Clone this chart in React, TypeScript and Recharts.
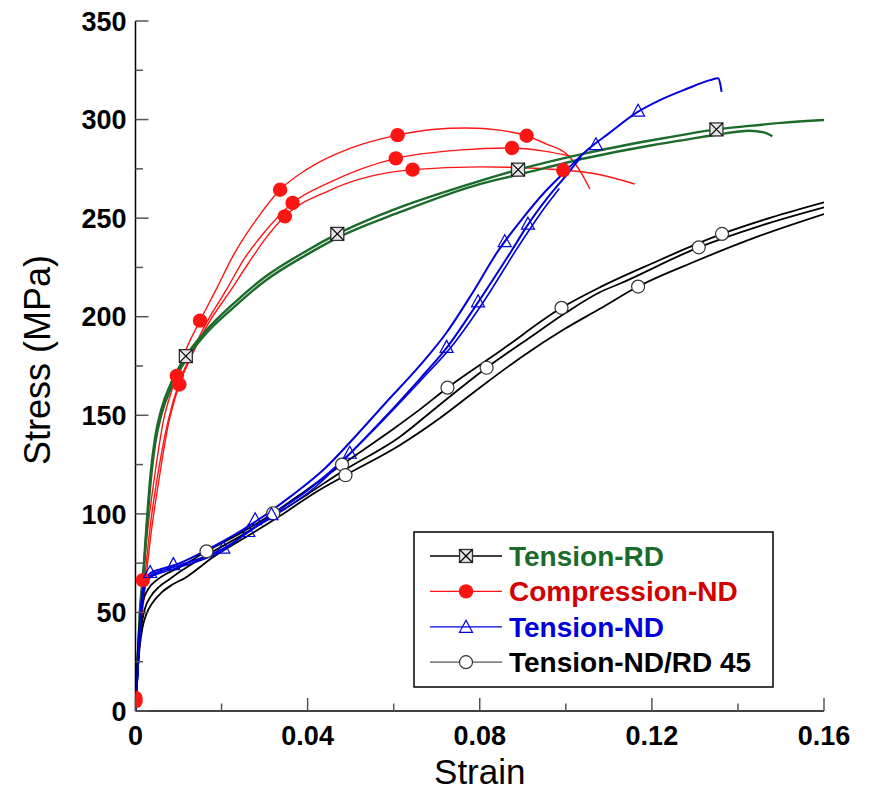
import React from 'react';
import { ComposedChart, Line, Scatter, XAxis, YAxis, Legend, Label } from 'recharts';

// Tension-RD, two specimens (strain, stress MPa)
const rd1Strain = [0, 0.0005, 0.001, 0.0018, 0.00265, 0.0035, 0.0045, 0.006, 0.0084, 0.0117, 0.016, 0.0227, 0.03, 0.0398, 0.0469, 0.0614, 0.075, 0.0889, 0.1048, 0.12, 0.1265, 0.135, 0.1427, 0.15, 0.16];
const rd1Stress = [0, 25, 50, 70, 97, 120, 138, 153, 167, 180, 192, 206.5, 220, 233.5, 242, 255.5, 265.5, 274.6, 283, 289.5, 292, 295, 296.8, 298.3, 299.8];
const rd2Strain = [0, 0.0005, 0.001, 0.0018, 0.0027, 0.0036, 0.0046, 0.0061, 0.0085, 0.0118, 0.016, 0.0227, 0.03, 0.0398, 0.0469, 0.0614, 0.08, 0.0889, 0.1048, 0.12, 0.1265, 0.135, 0.1427, 0.146, 0.148];
const rd2Stress = [0, 24, 48, 68, 95, 118, 136, 151, 165, 178.5, 190.5, 204.5, 218, 231.5, 240, 253, 267.3, 272, 280.5, 287, 289.3, 292.3, 294.3, 293.5, 291.5];
const rdMarkStrain = [0.0117, 0.0469, 0.0889, 0.135];
const rdMarkStress = [180, 242, 274.6, 295];

// Compression-ND, three specimens
const cnA_strain = [0, 0.0005, 0.001, 0.0017, 0.003, 0.0045, 0.0065, 0.0085, 0.0096, 0.0115, 0.015, 0.0189, 0.0227, 0.028, 0.0336, 0.04, 0.05, 0.0609, 0.069, 0.0769, 0.085, 0.0909, 0.0955, 0.1002, 0.1033, 0.1056];
const cnA_stress = [6.6, 25, 45, 66.4, 95, 120, 147.4, 163, 170, 182, 198, 214.5, 231, 249, 264.4, 275, 285.5, 292.1, 295, 295.7, 294.5, 291.8, 287.6, 282.5, 274, 264.8];
const cnB_strain = [0, 0.0006, 0.0012, 0.002, 0.0035, 0.0055, 0.0076, 0.0102, 0.0125, 0.016, 0.0212, 0.025, 0.03, 0.0365, 0.045, 0.0605, 0.075, 0.0875, 0.095, 0.101];
const cnB_stress = [6.6, 25, 45, 64, 95, 124, 147.4, 167, 179, 195, 214, 228.5, 243, 257.7, 268, 280.3, 284.5, 285.6, 284, 281.5];
const cnC_strain = [0, 0.0006, 0.0012, 0.002, 0.0035, 0.0055, 0.0076, 0.0102, 0.013, 0.0165, 0.0223, 0.0262, 0.03, 0.0347, 0.045, 0.0644, 0.08, 0.0994, 0.108, 0.116];
const cnC_stress = [5, 22, 40, 58, 88, 118, 145, 165.6, 180, 195, 214, 227, 239, 250.9, 264, 274.6, 276, 274.4, 272, 267.3];
const cnMarkStrain = [0, 0, 0.0017, 0.0096, 0.0102, 0.015, 0.0336, 0.0347, 0.0365, 0.0605, 0.0609, 0.0644, 0.0875, 0.0909, 0.0994];
const cnMarkStress = [6.6, 5, 66.4, 170, 165.6, 198, 264.4, 250.9, 257.7, 280.3, 292.1, 274.6, 285.6, 291.8, 274.4];

// Tension-ND, three specimens
const tnA_strain = [0, 0.0007, 0.0014, 0.002, 0.0034, 0.006, 0.0103, 0.0165, 0.025, 0.0359, 0.044, 0.0514, 0.058, 0.0661, 0.0723, 0.078, 0.0843, 0.09, 0.095, 0.1, 0.1048, 0.11, 0.1168, 0.122, 0.128, 0.1335, 0.1354, 0.1359, 0.1362];
const tnA_stress = [0, 30, 56, 65, 69.8, 72, 75, 81.6, 92, 108.6, 123, 140, 156, 175.3, 192, 211, 233.5, 250, 263, 274, 284.2, 293, 304, 310, 315.5, 320, 321, 318, 314];
const tnB_strain = [0, 0.0007, 0.0014, 0.002, 0.0034, 0.006, 0.0103, 0.0204, 0.027, 0.0316, 0.04, 0.0498, 0.0545, 0.0661, 0.0723, 0.0796, 0.0874, 0.0912, 0.096, 0.1002, 0.1035];
const tnB_stress = [0, 28, 54, 64, 68.5, 71, 74, 82.4, 92, 99.3, 112, 130.5, 141, 168.5, 184.2, 207.3, 233.5, 246.7, 261, 272, 281];
const tnC_strain = [0, 0.0007, 0.0015, 0.0022, 0.0036, 0.0065, 0.011, 0.02, 0.0262, 0.033, 0.042, 0.05, 0.056, 0.066, 0.0735, 0.081, 0.0885, 0.094, 0.0985];
const tnC_stress = [0, 26, 52, 63, 68, 70.5, 73.5, 81, 90.8, 100, 114, 131, 144, 167, 185, 208, 234, 252, 265];
const tnMarkStrain = [0.0034, 0.0088, 0.0204, 0.0262, 0.0278, 0.0316, 0.0498, 0.0723, 0.0796, 0.0858, 0.0912, 0.107, 0.1168];
const tnMarkStress = [70, 74, 82.4, 90.8, 96.8, 99.3, 130.5, 184.2, 207.3, 237.8, 246.7, 287, 304];

// Tension-ND/RD 45, three specimens
const t45A_strain = [0, 0.0004, 0.0008, 0.0012, 0.0018, 0.003, 0.005, 0.0075, 0.0103, 0.0165, 0.025, 0.032, 0.04, 0.048, 0.0595, 0.0661, 0.0725, 0.085, 0.099, 0.108, 0.12, 0.1363, 0.148, 0.16];
const t45A_stress = [0, 25, 40, 49, 56, 62, 66.5, 70, 73, 81, 91, 100.3, 112.5, 125, 142.4, 153, 164, 183, 204.5, 215, 227, 242, 250.5, 258];
const t45B_strain = [0, 0.0005, 0.001, 0.0015, 0.0022, 0.0035, 0.0055, 0.008, 0.0103, 0.0165, 0.025, 0.032, 0.04, 0.048, 0.0614, 0.0705, 0.0816, 0.092, 0.1, 0.1079, 0.1125, 0.1309, 0.145, 0.16];
const t45B_stress = [0, 22, 36, 45, 52, 58, 63, 67, 70.6, 79, 89.5, 99, 110, 121.5, 139, 155, 174.1, 190, 202, 212.4, 216.7, 235.2, 246, 255.5];
const t45C_strain = [0, 0.0005, 0.001, 0.0016, 0.0025, 0.004, 0.006, 0.0085, 0.0115, 0.018, 0.027, 0.035, 0.0415, 0.0488, 0.0614, 0.0707, 0.08, 0.09, 0.0995, 0.1079, 0.1168, 0.13, 0.145, 0.16];
const t45C_stress = [0, 20, 33, 42, 49, 55, 60, 64, 67.5, 78, 90, 101, 110.5, 119.6, 134.8, 148.5, 164, 180, 193.5, 204, 215.3, 228, 241, 252.1];
const t45MarkStrain = [0.0165, 0.032, 0.048, 0.0488, 0.0725, 0.0816, 0.099, 0.1168, 0.1309, 0.1363];
const t45MarkStress = [81, 100.3, 125, 119.6, 164, 174.1, 204.5, 215.3, 235.2, 242];

// axes
const xTicks = [0, 0.02, 0.04, 0.06, 0.08, 0.1, 0.12, 0.14, 0.16];
const yTicks = [0, 25, 50, 75, 100, 125, 150, 175, 200, 225, 250, 275, 300, 325, 350];
const legendNames = ['Tension-RD', 'Compression-ND', 'Tension-ND', 'Tension-ND/RD 45'];

const GREEN = '#1b6b2a';
const RED = '#ff1414';
const BLUE = '#0000dc';
const FONT = '"Liberation Sans", Arial, Helvetica, sans-serif';

const zip = (xs: number[], ys: number[]) => xs.map((x, i) => ({ x, y: ys[i] }));

const curves = [
  { key: 'cnA', data: zip(cnA_strain, cnA_stress), color: RED, w: 1.4 },
  { key: 'cnB', data: zip(cnB_strain, cnB_stress), color: RED, w: 1.4 },
  { key: 'cnC', data: zip(cnC_strain, cnC_stress), color: RED, w: 1.4 },
  { key: 'rd1', data: zip(rd1Strain, rd1Stress), color: GREEN, w: 2.4 },
  { key: 'rd2', data: zip(rd2Strain, rd2Stress), color: GREEN, w: 2.4 },
  { key: 't45A', data: zip(t45A_strain, t45A_stress), color: '#000', w: 1.8 },
  { key: 't45B', data: zip(t45B_strain, t45B_stress), color: '#000', w: 1.8 },
  { key: 't45C', data: zip(t45C_strain, t45C_stress), color: '#000', w: 1.8 },
  { key: 'tnA', data: zip(tnA_strain, tnA_stress), color: BLUE, w: 2 },
  { key: 'tnB', data: zip(tnB_strain, tnB_stress), color: BLUE, w: 2 },
  { key: 'tnC', data: zip(tnC_strain, tnC_stress), color: BLUE, w: 1.6 },
];

// marker shapes
const CrossSquare = ({ cx, cy }: any) => (
  <g>
    <rect x={cx - 6.5} y={cy - 6.5} width={13} height={13} fill="#e6e6e6" stroke="#333" strokeWidth={1.3} />
    <line x1={cx - 6.5} y1={cy - 6.5} x2={cx + 6.5} y2={cy + 6.5} stroke="#000" strokeWidth={1.2} />
    <line x1={cx - 6.5} y1={cy + 6.5} x2={cx + 6.5} y2={cy - 6.5} stroke="#000" strokeWidth={1.2} />
  </g>
);
const RedDot = ({ cx, cy }: any) => <circle cx={cx} cy={cy} r={7.2} fill={RED} />;
const Triangle = ({ cx, cy }: any) => (
  <path d={`M${cx},${cy - 7.5}L${cx - 6.5},${cy + 4.5}L${cx + 6.5},${cy + 4.5}Z`} fill="none" stroke={BLUE} strokeWidth={1.2} />
);
const OpenCircle = ({ cx, cy }: any) => <circle cx={cx} cy={cy} r={6.5} fill="#fff" stroke="#333" strokeWidth={1.2} />;

const isMajor = (v: number, step: number) => Math.abs(v / step - Math.round(v / step)) < 1e-6;
const fmtX = (v: number) => (v === 0 ? '0' : v.toFixed(2));

const tickText = { fontFamily: FONT, fontWeight: 700, fontSize: 27, fill: '#000' };

const BottomTick = ({ x, y, payload }: any) => {
  const major = isMajor(payload.value, 0.04);
  return (
    <g>
      <line x1={x} x2={x} y1={y} y2={y - (major ? 13 : 7.5)} stroke="#555" strokeWidth={1.5} />
      {major && (
        <text x={x} y={y + 34} textAnchor="middle" {...tickText}>{fmtX(payload.value)}</text>
      )}
    </g>
  );
};
const TopTick = ({ x, y, payload }: any) => {
  const major = isMajor(payload.value, 0.04);
  return <line x1={x} x2={x} y1={y} y2={y + (major ? 13 : 7.5)} stroke="#555" strokeWidth={1.5} />;
};
const LeftTick = ({ x, y, payload }: any) => {
  const major = isMajor(payload.value, 50);
  return (
    <g>
      <line x1={x} x2={x + (major ? 13 : 7.5)} y1={y} y2={y} stroke="#555" strokeWidth={1.5} />
      {major && (
        <text x={x - 9} y={y} dy="0.36em" textAnchor="end" {...tickText}>{payload.value}</text>
      )}
    </g>
  );
};
const RightTick = ({ x, y, payload }: any) => {
  const major = isMajor(payload.value, 50);
  return <line x1={x} x2={x - (major ? 13 : 7.5)} y1={y} y2={y} stroke="#555" strokeWidth={1.5} />;
};

const legendRows = [
  { line: '#000', text: GREEN, icon: (cx: number, cy: number) => <CrossSquare cx={cx} cy={cy} /> },
  { line: RED, text: '#d40000', icon: (cx: number, cy: number) => <RedDot cx={cx} cy={cy} /> },
  { line: BLUE, text: BLUE, icon: (cx: number, cy: number) => <Triangle cx={cx} cy={cy + 1} /> },
  { line: '#555', text: '#000', icon: (cx: number, cy: number) => <OpenCircle cx={cx} cy={cy} /> },
];

const LegendBox = () => (
  <svg width={362} height={158} style={{ display: 'block' }}>
    <rect x={1} y={1} width={359} height={155} fill="#fff" stroke="#000" strokeWidth={1.5} />
    {legendNames.map((name, i) => {
      const cy = 25 + i * 35.4;
      const r = legendRows[i];
      return (
        <g key={name}>
          <line x1={17} x2={89} y1={cy} y2={cy} stroke={r.line} strokeWidth={1.3} />
          {r.icon(53, cy)}
          <text x={96} y={cy + 10} fontFamily={FONT} fontWeight={700} fontSize={28} fill={r.text}>{name}</text>
        </g>
      );
    })}
  </svg>
);

export default function App() {
  return (
    <div style={{ position: 'absolute', left: 0, top: 0, background: '#fff' }}>
      <ComposedChart width={871} height={795} margin={{ top: 21, right: 47, bottom: 0, left: 0 }}>
        <XAxis xAxisId="x" dataKey="x" type="number" domain={[0, 0.16]} allowDataOverflow ticks={xTicks} interval={0}
          height={84} tickSize={0} tickMargin={0} tickLine={false} tick={<BottomTick />}
          axisLine={{ stroke: '#000', strokeWidth: 1.5 }}>
          <Label content={({ viewBox }: any) => (
            <text x={viewBox.x + viewBox.width / 2} y={viewBox.y + 73} textAnchor="middle" fontFamily={FONT} fontSize={35} fill="#000">Strain</text>
          )} />
        </XAxis>
        <XAxis xAxisId="xt" orientation="top" type="number" domain={[0, 0.16]} allowDataOverflow ticks={xTicks} interval={0}
          height={0} tickSize={0} tickMargin={0} tickLine={false} tick={<TopTick />}
          axisLine={{ stroke: '#000', strokeWidth: 1.5 }} />
        <YAxis yAxisId="y" dataKey="y" type="number" domain={[0, 350]} allowDataOverflow ticks={yTicks} interval={0}
          width={135.5} tickSize={0} tickMargin={0} tickLine={false} tick={<LeftTick />}
          axisLine={{ stroke: '#000', strokeWidth: 1.5 }}>
          <Label content={({ viewBox }: any) => {
            const cx = 37;
            const cy = viewBox.y + viewBox.height / 2 - 6;
            return (
              <text x={cx} y={cy} dy="0.36em" textAnchor="middle" transform={`rotate(-90, ${cx}, ${cy})`} fontFamily={FONT} fontSize={36} fill="#000">Stress (MPa)</text>
            );
          }} />
        </YAxis>
        <YAxis yAxisId="yr" orientation="right" type="number" domain={[0, 350]} allowDataOverflow ticks={yTicks} interval={0}
          width={0} tickSize={0} tickMargin={0} tickLine={false} tick={<RightTick />}
          axisLine={{ stroke: '#000', strokeWidth: 1.5 }} />

        {curves.slice(0, 3).map((c) => (
          <Line key={c.key} xAxisId="x" yAxisId="y" data={c.data} dataKey="y" type="monotone" stroke={c.color}
            strokeWidth={c.w} dot={false} activeDot={false} isAnimationActive={false} />
        ))}
        <Scatter xAxisId="x" yAxisId="y" data={zip(cnMarkStrain, cnMarkStress)} shape={RedDot} isAnimationActive={false} />
        {curves.slice(3, 5).map((c) => (
          <Line key={c.key} xAxisId="x" yAxisId="y" data={c.data} dataKey="y" type="monotone" stroke={c.color}
            strokeWidth={c.w} dot={false} activeDot={false} isAnimationActive={false} />
        ))}
        <Scatter xAxisId="x" yAxisId="y" data={zip(rdMarkStrain, rdMarkStress)} shape={CrossSquare} isAnimationActive={false} />
        {curves.slice(5, 8).map((c) => (
          <Line key={c.key} xAxisId="x" yAxisId="y" data={c.data} dataKey="y" type="monotone" stroke={c.color}
            strokeWidth={c.w} dot={false} activeDot={false} isAnimationActive={false} />
        ))}
        <Scatter xAxisId="x" yAxisId="y" data={zip(t45MarkStrain, t45MarkStress)} shape={OpenCircle} isAnimationActive={false} />
        {curves.slice(8).map((c) => (
          <Line key={c.key} xAxisId="x" yAxisId="y" data={c.data} dataKey="y" type="monotone" stroke={c.color}
            strokeWidth={c.w} dot={false} activeDot={false} isAnimationActive={false} />
        ))}
        <Scatter xAxisId="x" yAxisId="y" data={zip(tnMarkStrain, tnMarkStress)} shape={Triangle} isAnimationActive={false} />

        <Legend layout="vertical" align="center" verticalAlign="middle" content={() => <LegendBox />}
          wrapperStyle={{ left: 413, top: 531, width: 362, height: 158 }} />
      </ComposedChart>
    </div>
  );
}
